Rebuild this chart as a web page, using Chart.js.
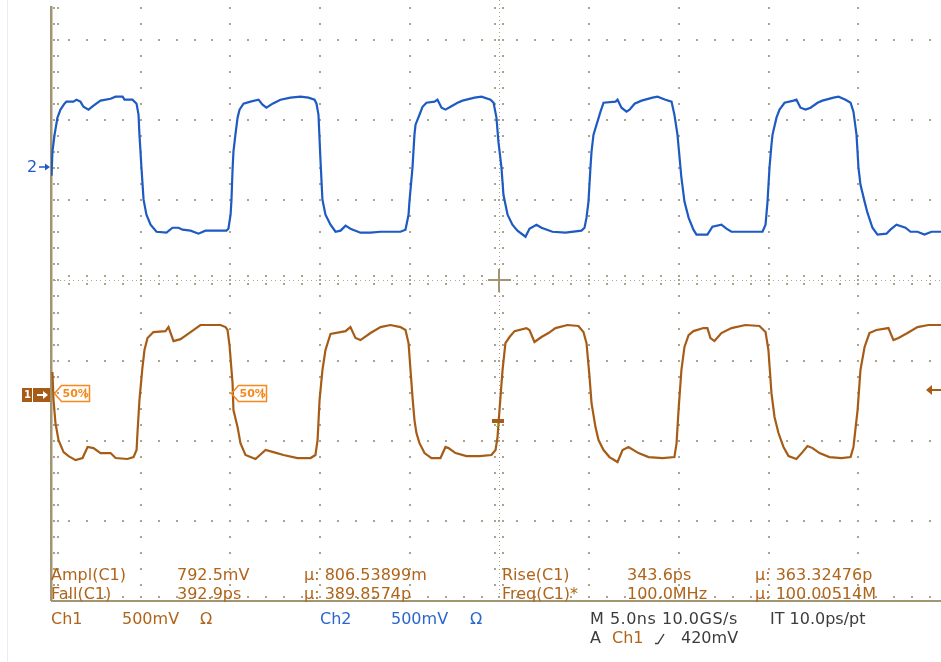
<!DOCTYPE html>
<html>
<head>
<meta charset="utf-8">
<title>Ch1 / Ch2 100 MHz clock</title>
<script src="https://cdn.jsdelivr.net/npm/chart.js@4.4.1/dist/chart.umd.min.js"></script>
<style>
  body { margin: 0; background: #fff; }
  #scope { position: relative; width: 941px; height: 662px; overflow: hidden; font-family: "DejaVu Sans", sans-serif; font-size: 16px; }
  #plot { position: absolute; left: 0; top: 0; width: 941px; height: 662px; }
  #edge { position: absolute; left: 7px; top: 0; width: 1px; height: 662px; background: #e8eef6; }
  .t { position: absolute; line-height: 16px; white-space: pre; }
  .br { color: #b0641a; }
  .bl { color: #2a66cc; }
  .gr { color: #3c3c3c; }
</style>
</head>
<body>
<div id="scope">
  <div id="edge"></div>
  <div id="plot"><canvas id="chart"></canvas></div>

  <div class="t br" style="left:51px;top:567px">Ampl(C1)</div>
  <div class="t br" style="left:177px;top:567px">792.5mV</div>
  <div class="t br" style="left:304px;top:567px">µ: 806.53899m</div>
  <div class="t br" style="left:502px;top:567px">Rise(C1)</div>
  <div class="t br" style="left:627px;top:567px">343.6ps</div>
  <div class="t br" style="left:755px;top:567px">µ: 363.32476p</div>

  <div class="t br" style="left:51px;top:586px">Fall(C1)</div>
  <div class="t br" style="left:177px;top:586px">392.9ps</div>
  <div class="t br" style="left:304px;top:586px">µ: 389.8574p</div>
  <div class="t br" style="left:502px;top:586px">Freq(C1)*</div>
  <div class="t br" style="left:627px;top:586px">100.0MHz</div>
  <div class="t br" style="left:755px;top:586px">µ: 100.00514M</div>

  <div class="t br" style="left:51px;top:611px">Ch1</div>
  <div class="t br" style="left:122px;top:611px">500mV</div>
  <div class="t br" style="left:200px;top:611px">Ω</div>
  <div class="t bl" style="left:320px;top:611px">Ch2</div>
  <div class="t bl" style="left:391px;top:611px">500mV</div>
  <div class="t bl" style="left:470px;top:611px">Ω</div>
  <div class="t gr" style="left:590px;top:611px;letter-spacing:0.5px">M 5.0ns 10.0GS/s</div>
  <div class="t gr" style="left:770px;top:611px">IT 10.0ps/pt</div>

  <div class="t gr" style="left:590px;top:630px">A</div>
  <div class="t br" style="left:612px;top:630px">Ch1</div>
  <svg style="position:absolute;left:655px;top:632px" width="10" height="13"><polyline points="0,11.5 3,11.5 9,2" fill="none" stroke="#3c3c3c" stroke-width="1.4"/></svg>
  <div class="t gr" style="left:681px;top:630px">420mV</div>
</div>

<script>
// horizontal: 5 ns/div, centre of screen = 0 ns
const timeMin = -25;
const timeMax = 24.61;
const timePerDiv = 5;

// vertical: 500 mV/div, screen shows -4 .. +3.5 divisions
const mvPerDiv = 500;
const divLow = -4;
const divHigh = 3.5;
const ch1OffsetDiv = -1.43;
const ch2OffsetDiv = 1.42;

const ch1Color = '#a65c16';
const ch2Color = '#1d5ac2';
const dotColor = '#aaa48c';
const axisColor = '#a39472';

// Ch2 (blue) trace: time in ns, level in mV
const ch2Time = [-24.97,-24.92,-24.80,-24.64,-24.47,-24.25,-24.14,-23.75,-23.58,-23.36,
  -23.19,-22.91,-22.63,-22.24,-21.68,-21.40,-21.01,-20.90,-20.46,-20.23,
  -20.12,-20.07,-19.95,-19.84,-19.68,-19.45,-19.12,-18.56,-18.23,-17.89,
  -17.67,-17.22,-16.78,-16.39,-15.77,-15.22,-15.11,
  -14.99,-14.94,-14.88,-14.83,-14.72,-14.60,-14.49,-14.27,-13.88,-13.43,
  -13.21,-12.99,-12.65,-12.21,-11.65,-11.09,-10.65,-10.31,-10.20,-10.09,
  -9.98,-9.87,-9.70,-9.42,-9.14,-8.86,-8.58,-8.31,-7.75,-7.19,
  -6.63,-5.52,-5.24,
  -5.07,-5.02,-4.85,-4.74,-4.68,-4.46,-4.29,-4.07,-3.62,-3.46,
  -3.23,-3.01,-2.73,-2.34,-2.06,-1.39,-1.00,-0.50,-0.33,-0.17,
  -0.06,0.11,0.22,0.45,0.72,1.00,1.45,1.67,2.06,2.34,
  2.95,3.68,4.57,4.74,
  4.85,4.96,5.07,5.13,5.24,5.41,5.63,5.80,6.47,6.58,
  6.80,7.08,7.25,7.53,7.92,8.53,8.81,9.25,9.59,9.75,
  9.92,10.14,10.31,10.54,10.81,10.98,11.59,11.87,12.37,12.65,
  12.93,13.71,14.66,
  14.83,14.94,15.05,15.16,15.22,15.44,15.61,15.89,16.39,16.55,
  16.78,17.06,17.34,17.73,18.00,18.62,18.90,19.29,19.57,19.73,
  19.90,20.01,20.12,20.35,20.51,20.79,21.07,21.57,21.79,22.13,
  22.63,22.91,23.30,23.69,24.08,24.64];
const ch2Level = [-56,94,200,306,356,393,406,406,418,406,
  374,356,381,412,424,437,437,418,418,393,
  324,200,-19,-206,-300,-362,-406,-412,-381,-381,
  -393,-399,-418,-399,-399,-399,-387,
  -300,-206,-19,94,200,306,356,393,406,418,
  387,368,393,418,431,437,431,418,393,324,
  44,-206,-300,-362,-406,-399,-368,-387,-412,-412,
  -406,-406,-393,
  -300,-218,-6,200,262,324,374,399,406,418,
  368,356,374,399,412,431,437,418,399,306,
  156,-6,-175,-300,-362,-399,-437,-387,-362,-381,
  -406,-412,-399,-381,
  -318,-218,-6,94,200,262,343,399,406,418,
  368,343,356,393,412,431,437,418,406,324,
  200,-69,-218,-318,-393,-424,-424,-374,-362,-387,
  -406,-406,-406,
  -362,-218,-6,137,200,306,356,399,412,418,
  368,356,368,399,412,431,437,418,399,343,
  200,-6,-112,-218,-287,-381,-424,-418,-393,-362,
  -381,-406,-406,-424,-406,-406];

// Ch1 (brown) trace: time in ns, level in mV
const ch1Time = [-24.92,-24.86,-24.75,-24.58,-24.30,-24.02,-23.63,-23.24,-22.96,-22.63,
  -22.24,-21.68,-21.40,-20.74,-20.40,-20.23,-20.18,-20.07,-19.90,-19.79,
  -19.62,-19.29,-18.62,-18.45,-18.17,-17.78,-17.22,-16.67,-15.55,-15.27,
  -15.16,-15.05,-14.88,-14.83,-14.60,-14.44,-14.16,-13.60,-13.04,-12.60,
  -12.04,-11.26,-10.53,-10.26,-10.14,-10.03,-9.87,-9.70,-9.42,-8.58,
  -8.31,-8.03,-7.75,-7.19,-6.63,-6.08,-5.52,-5.24,-5.07,-4.96,
  -4.85,-4.74,-4.63,-4.46,-4.18,-3.79,-3.29,-3.01,-2.84,-2.45,
  -1.84,-1.11,-0.45,-0.22,-0.11,0,0.17,0.33,0.56,0.84,
  1.50,1.67,1.95,2.34,2.73,3.12,3.79,4.40,4.68,4.85,
  5.02,5.13,5.35,5.52,5.80,6.13,6.58,6.86,7.19,7.75,
  8.31,9.09,9.75,9.87,9.98,10.14,10.31,10.54,10.81,11.37,
  11.59,11.76,11.98,12.37,12.93,13.71,14.49,14.83,14.99,15.16,
  15.33,15.55,15.83,16.11,16.55,16.89,17.17,17.45,17.84,18.39,
  19.06,19.57,19.73,19.96,20.12,20.35,20.62,21.01,21.68,21.96,
  22.24,22.74,23.30,23.91,24.64];
const ch1Level = [144,-31,-175,-281,-356,-381,-406,-393,-324,-331,
  -362,-362,-393,-399,-387,-343,-237,-31,175,281,
  356,393,399,424,337,349,393,437,437,424,
  406,312,75,-94,-200,-300,-374,-399,-343,-356,
  -374,-393,-393,-374,-281,-31,156,281,381,399,
  424,356,343,387,424,437,424,406,324,156,
  -12,-156,-237,-300,-362,-393,-393,-324,-331,-362,
  -381,-381,-374,-343,-262,-94,156,324,362,399,
  418,406,331,362,387,418,437,431,393,324,
  112,-50,-200,-281,-343,-387,-418,-343,-324,-362,
  -387,-393,-387,-300,-94,156,300,374,399,418,
  418,356,337,387,418,437,431,393,281,12,
  -137,-237,-324,-381,-399,-356,-318,-331,-362,-387,
  -393,-387,-324,-94,156,300,387,406,418,343,
  356,387,424,437,437];

// measurement cursors (50% tags on Ch1 falling edges), trigger marks
const fallMarks = [-24.86, -14.99];
const fiftyLevel = 10;
const trigTime = -0.06;
const trigMark = -162;
const trigLevel = 30;

function pairs(xs, ys) {
    return xs.map((t, i) => ({ x: t, y: ys[i] }));
}

// dotted scope graticule, drawn from the scales
const scopeGrid = {
    id: 'scopeGrid',
    beforeDatasetsDraw(chart) {
        const { ctx, chartArea: a, scales } = chart;
        const px = v => Math.round(scales.x.getPixelForValue(v));
        const py = v => Math.round(scales.grid.getPixelForValue(v));
        const dot = (X, Y) => ctx.fillRect(X - 1, Y - 1, 2, 2);
        const nMinorY = Math.round((divHigh - divLow) * 5);
        const nMinorX = Math.round((timeMax - timeMin));
        ctx.save();
        ctx.fillStyle = dotColor;

        // vertical division lines
        for (let k = -4; k <= 4; k++) {
            if (k === 0) continue;
            const X = px(k * timePerDiv);
            for (let j = 0; j < nMinorY; j++) dot(X, py(divLow + j * 0.2));
        }
        // horizontal division lines
        for (let d = -3; d <= 3; d++) {
            if (d === 0) continue;
            const Y = py(d);
            for (let j = 0; j <= nMinorX; j++) dot(px(timeMin + j), Y);
        }
        // centre axes with fine ticks
        const cx = px(0), cy = py(0);
        for (let j = 0; j < nMinorY * 4; j++) {
            const Y = py(divLow + j * 0.05);
            ctx.fillRect(cx, Y, 1, 1);
            if (j % 4 === 0) { dot(cx - 4, Y); dot(cx + 4, Y); }
        }
        for (let j = 0; j <= nMinorX * 4; j++) {
            const X = px(timeMin + j * 0.25);
            ctx.fillRect(X, cy, 1, 1);
            if (j % 4 === 0) { dot(X, cy - 4); dot(X, cy + 4); }
        }
        // left and bottom edge ticks
        for (let j = 0; j < nMinorY; j++) {
            const Y = py(divLow + j * 0.2);
            dot(a.left + 3, Y); dot(a.left + 7, Y);
        }
        for (let j = 0; j <= nMinorX; j++) {
            const X = px(timeMin + j);
            dot(X, a.bottom - 4);
        }

        ctx.fillStyle = axisColor;
        ctx.fillRect(cx - 11, cy - 1, 23, 2);
        ctx.fillRect(cx - 1, cy - 11, 2, 23);
        ctx.fillRect(a.left - 1, 6, 2.5, a.bottom - 6);
        ctx.fillRect(a.left, a.bottom - 1, a.right - a.left, 2);
        ctx.restore();
    }
};

// channel markers, 50% tags and trigger marks
const scopeMarks = {
    id: 'scopeMarks',
    afterDatasetsDraw(chart) {
        const { ctx, chartArea: a, scales } = chart;
        const { x, y1, y2 } = scales;
        ctx.save();
        ctx.textBaseline = 'middle';

        // Ch2 ground marker
        const m2 = Math.round(y2.getPixelForValue(0));
        ctx.fillStyle = ch2Color;
        ctx.font = '16px "DejaVu Sans"';
        ctx.fillText('2', 27, m2 + 1);
        ctx.fillRect(39, m2 - 0.75, 7, 1.5);
        ctx.beginPath();
        ctx.moveTo(a.left - 1, m2); ctx.lineTo(45, m2 - 3.5); ctx.lineTo(45, m2 + 3.5);
        ctx.closePath(); ctx.fill();

        // Ch1 ground marker
        const m1 = Math.round(y1.getPixelForValue(0));
        ctx.fillStyle = ch1Color;
        ctx.fillRect(22, m1 - 7, 10, 14);
        ctx.fillRect(33, m1 - 7, 17, 14);
        ctx.fillStyle = '#fff';
        ctx.font = 'bold 10px "DejaVu Sans"';
        ctx.fillText('1', 24, m1);
        ctx.fillRect(37, m1 - 1, 7, 2);
        ctx.beginPath();
        ctx.moveTo(48, m1); ctx.lineTo(43, m1 - 4); ctx.lineTo(43, m1 + 4);
        ctx.closePath(); ctx.fill();

        // 50% tags
        ctx.strokeStyle = '#f5891c';
        ctx.fillStyle = '#f5891c';
        ctx.lineWidth = 1.5;
        ctx.font = 'bold 11px "DejaVu Sans"';
        fallMarks.forEach(t => {
            const X = Math.round(x.getPixelForValue(t)) + 0.5;
            const Y = Math.round(y1.getPixelForValue(fiftyLevel)) + 0.5;
            ctx.beginPath();
            ctx.moveTo(X, Y);
            ctx.lineTo(X + 7, Y - 8); ctx.lineTo(X + 35, Y - 8);
            ctx.lineTo(X + 35, Y + 8); ctx.lineTo(X + 7, Y + 8);
            ctx.closePath(); ctx.stroke();
            ctx.beginPath();
            ctx.moveTo(X + 31, Y - 5); ctx.lineTo(X + 31, Y + 5); ctx.stroke();
            ctx.fillText('50%', X + 8, Y + 0.5);
        });

        // trigger position mark
        const tx = Math.round(x.getPixelForValue(trigTime));
        const ty = Math.round(y1.getPixelForValue(trigMark));
        ctx.fillStyle = ch1Color;
        ctx.fillRect(tx - 6, ty - 2, 12, 4);
        ctx.strokeStyle = '#7ccf3a';
        ctx.lineWidth = 1;
        ctx.beginPath(); ctx.moveTo(tx - 2, ty + 6); ctx.lineTo(tx + 2, ty + 3); ctx.stroke();

        // trigger level arrow on the right edge
        const ly = Math.round(y1.getPixelForValue(trigLevel));
        ctx.fillStyle = ch1Color;
        ctx.fillRect(a.right - 10, ly - 1, 10, 2);
        ctx.beginPath();
        ctx.moveTo(a.right - 15, ly); ctx.lineTo(a.right - 9, ly - 5); ctx.lineTo(a.right - 9, ly + 5);
        ctx.closePath(); ctx.fill();
        ctx.restore();
    }
};

new Chart(document.getElementById('chart'), {
    type: 'line',
    data: {
        datasets: [{
            label: 'Ch2',
            data: pairs(ch2Time, ch2Level),
            yAxisID: 'y2',
            borderColor: ch2Color,
            borderWidth: 2.2,
            pointRadius: 0,
            tension: 0
        }, {
            label: 'Ch1',
            data: pairs(ch1Time, ch1Level),
            yAxisID: 'y1',
            borderColor: ch1Color,
            borderWidth: 2.2,
            pointRadius: 0,
            tension: 0
        }]
    },
    options: {
        responsive: true,
        maintainAspectRatio: false,
        animation: false,
        parsing: false,
        layout: { padding: { left: 51, right: 0, top: 0, bottom: 61 } },
        plugins: { legend: { display: false }, tooltip: { enabled: false } },
        scales: {
            x: { type: 'linear', axis: 'x', position: 'bottom', min: timeMin, max: timeMax, display: false },
            y1: { type: 'linear', axis: 'y', position: 'left', display: false,
                  min: (divLow - ch1OffsetDiv) * mvPerDiv, max: (divHigh - ch1OffsetDiv) * mvPerDiv },
            y2: { type: 'linear', axis: 'y', position: 'left', display: false,
                  min: (divLow - ch2OffsetDiv) * mvPerDiv, max: (divHigh - ch2OffsetDiv) * mvPerDiv },
            grid: { type: 'linear', axis: 'y', position: 'left', display: false, min: divLow, max: divHigh }
        }
    },
    plugins: [scopeGrid, scopeMarks]
});
</script>
</body>
</html>
